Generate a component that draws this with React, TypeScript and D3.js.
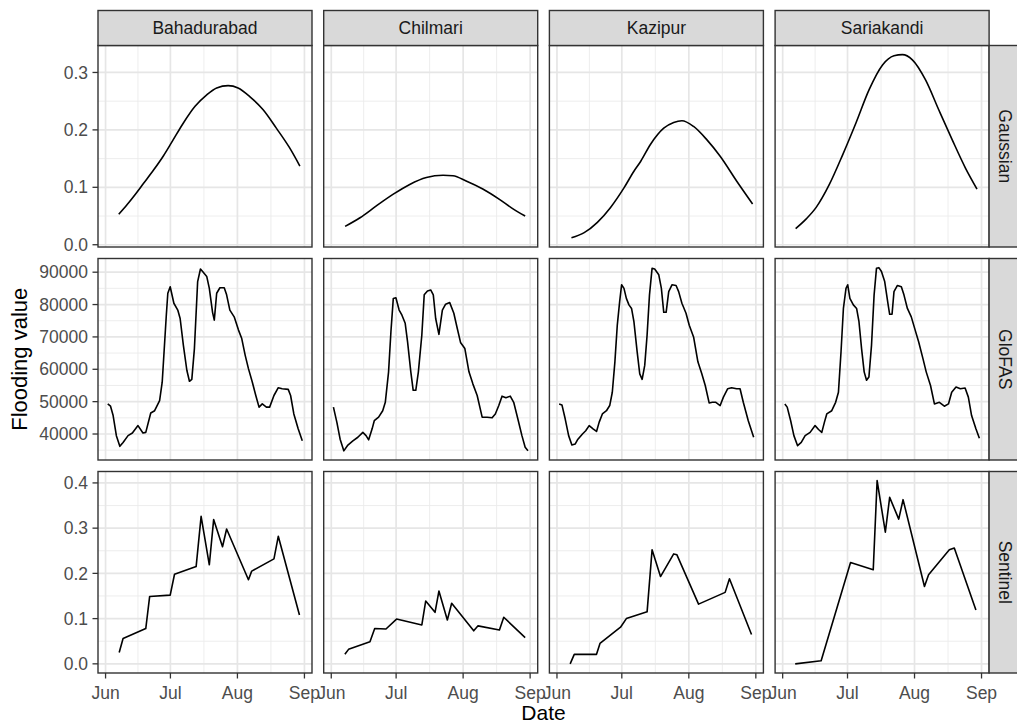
import React, { useRef, useEffect } from 'react'
import * as d3 from 'd3'

const stations = ['Bahadurabad', 'Chilmari', 'Kazipur', 'Sariakandi']

// each point: [days after 1 June, value]
const gaussianBahadurabad = [
    [6.1, 0.053], [10, 0.07], [13.8, 0.088], [17.6, 0.107], [22.2, 0.13], [26.8, 0.155],
    [30.7, 0.179], [36, 0.212], [41.4, 0.241], [46.8, 0.261], [51.4, 0.273], [56.7, 0.277],
    [61.3, 0.273], [66.7, 0.258], [72.9, 0.235], [79, 0.203], [85.1, 0.169], [89.9, 0.137],
]
const gaussianChilmari = [
    [6.4, 0.032], [13.3, 0.047], [21, 0.068], [28.7, 0.088], [36.3, 0.105], [44, 0.117],
    [51.7, 0.121], [56.3, 0.12], [62.4, 0.111], [70.1, 0.097], [77.8, 0.079], [83.9, 0.063],
    [89.7, 0.05],
]
const gaussianKazipur = [
    [6.7, 0.012], [12.6, 0.021], [18.7, 0.039], [24.8, 0.065], [31, 0.099], [35.6, 0.128],
    [38.7, 0.145], [43.3, 0.175], [49.4, 0.203], [54, 0.213], [57.8, 0.216], [63.2, 0.206],
    [69.3, 0.183], [75.5, 0.154], [83.1, 0.111], [90.5, 0.071],
]
const gaussianSariakandi = [
    [6, 0.028], [10.9, 0.045], [15.5, 0.065], [21.6, 0.105], [27.8, 0.157], [33.9, 0.212],
    [40, 0.27], [46.2, 0.313], [51.5, 0.329], [55.4, 0.331], [60, 0.322], [66.1, 0.287],
    [72.2, 0.235], [78.4, 0.183], [84.5, 0.134], [89.9, 0.097],
]

const glofasBahadurabad = [
    [1, 49300], [2.3, 48600], [3.5, 45700], [5, 39500], [6.6, 36200], [8.1, 37400],
    [10.4, 39500], [12.4, 40300], [15, 42600], [17.3, 40300], [18.6, 40500], [20.9, 46500],
    [22.7, 47200], [25, 50300], [26.2, 56000], [28.1, 76700], [28.8, 83500], [29.9, 85500],
    [31.6, 80400], [33.4, 78300], [34.5, 75700], [36, 67400], [37.6, 59700], [38.8, 56300],
    [39.9, 56900], [41.1, 66400], [42.6, 87100], [43.9, 91000], [44.9, 90200], [46.8, 88700],
    [48, 85000], [49.5, 77600], [50.3, 75200], [51.4, 83500], [52.9, 85200], [54.9, 85200],
    [56, 83000], [57.5, 78300], [59.5, 76200], [61.5, 72100], [63, 69500], [64.6, 64300],
    [66.1, 60200], [67.9, 56000], [69.5, 51900], [71, 48300], [72.5, 49300], [74.4, 48300],
    [75.9, 48300], [77.9, 51900], [79.9, 54300], [81.7, 54000], [84.5, 53800], [85.6, 51900],
    [87.1, 46200], [89.1, 41600], [91, 37900],
]
const glofasChilmari = [
    [1, 48300], [2.6, 43600], [4.1, 38400], [5.8, 34800], [7.7, 36600], [10, 37900],
    [12.3, 39000], [14.6, 40500], [16.1, 39500], [17.3, 38200], [18.9, 41600], [19.9, 44100],
    [21.9, 45200], [23.8, 47200], [25, 49800], [26.5, 59100], [27.6, 71600], [28.7, 81900],
    [29.9, 82100], [31.4, 78300], [32.7, 76700], [34.2, 74200], [35.3, 68500], [36.8, 59200],
    [37.9, 53500], [39.1, 53500], [40.3, 59200], [41.9, 70600], [43, 83000], [44.5, 84200],
    [46, 84500], [47.2, 83000], [48.3, 75700], [49.8, 70800], [51.4, 78300], [52.9, 80100],
    [54.8, 80600], [56.7, 77300], [58.3, 72600], [59.8, 68300], [61.8, 66400], [63.7, 59200],
    [65.5, 55500], [67.5, 51900], [69.8, 45200], [72.1, 45200], [74.4, 45000], [75.9, 46200],
    [77.5, 48800], [79, 51700], [80.8, 51200], [82.8, 51700], [84.4, 49800], [86.3, 44700],
    [88.2, 39500], [89.7, 35900], [91, 34800],
]
const glofasKazipur = [
    [1, 49300], [2.3, 49000], [3.8, 44700], [5.4, 39500], [6.9, 36600], [8.4, 36900],
    [9.5, 38200], [11.8, 40000], [13.3, 41000], [14.9, 42600], [16.7, 41600], [18.3, 40800],
    [19.5, 43600], [21, 46200], [22.9, 47200], [24.4, 48800], [25.6, 52900], [26.8, 62300],
    [27.9, 73600], [29, 80900], [29.9, 86100], [31, 85000], [32.1, 81900], [33.3, 79900],
    [34.5, 78800], [35.6, 74700], [37.1, 65400], [38.3, 58600], [39.4, 56900], [40.6, 61200],
    [41.7, 70600], [42.8, 83000], [44, 91200], [45.2, 91000], [47.1, 89200], [48.3, 85000],
    [49.4, 77600], [50.5, 77600], [51.7, 84000], [53.2, 86100], [55.1, 85900], [56.3, 84000],
    [57.8, 80400], [59.7, 77300], [61.2, 73600], [63.2, 70000], [65.2, 62300], [67, 58600],
    [68.6, 55000], [70.4, 49600], [71.9, 49800], [73.5, 49800], [75.5, 48800], [77, 51400],
    [79, 54000], [80.8, 54300], [83.1, 54000], [84.7, 54000], [86.2, 49800], [88.5, 44100],
    [91, 39000],
]
const glofasSariakandi = [
    [1, 49300], [2.1, 48300], [3.7, 44100], [5.2, 39500], [6.9, 36400], [8.6, 37400],
    [10.4, 39500], [12.7, 40500], [15, 42600], [16.6, 41400], [18.1, 40500], [19.3, 43600],
    [20.4, 46200], [22.7, 47200], [24.5, 49800], [25.8, 52900], [27, 65400], [28.1, 78800],
    [29.3, 85000], [30.1, 86100], [31.1, 81900], [32.7, 79900], [34.2, 78800], [35.3, 74700],
    [36.5, 66400], [37.7, 59200], [38.8, 56600], [39.9, 57600], [41.1, 67400], [42.3, 83000],
    [43.4, 91200], [44.5, 91400], [45.7, 90200], [47.2, 87100], [48.8, 79900], [49.5, 77000],
    [50.6, 77000], [51.5, 84000], [53.1, 85900], [54.9, 85500], [56.1, 83000], [57.7, 78800],
    [59.5, 76200], [61.3, 72100], [62.9, 68500], [64.9, 63300], [66.4, 59200], [68.4, 55000],
    [70.2, 49300], [72.5, 49800], [74.8, 48600], [76.7, 49300], [78.2, 52900], [80.2, 54500],
    [82.2, 54000], [84.4, 54200], [85.9, 51400], [87.4, 45700], [89.4, 41600], [91, 38700],
]

const sentinelBahadurabad = [
    [6.3, 0.025], [8.1, 0.056], [18.6, 0.078], [20.4, 0.149], [29.9, 0.152], [31.9, 0.198],
    [41.9, 0.215], [44.2, 0.326], [48, 0.219], [50, 0.319], [54.1, 0.259], [56, 0.298],
    [66.1, 0.186], [67.6, 0.205], [77.9, 0.232], [79.9, 0.282], [89.7, 0.108],
]
const sentinelChilmari = [
    [6.3, 0.021], [8, 0.032], [17.9, 0.049], [20.1, 0.078], [25.3, 0.077], [30.2, 0.099],
    [41.9, 0.086], [43.7, 0.139], [48, 0.114], [49.8, 0.161], [53.7, 0.097], [55.7, 0.134],
    [65.9, 0.073], [67.9, 0.084], [77.8, 0.075], [79.8, 0.103], [89.7, 0.058],
]
const sentinelKazipur = [
    [6.1, 0.0], [8, 0.021], [18.3, 0.021], [19.9, 0.045], [29.4, 0.081], [32.1, 0.1],
    [41.7, 0.115], [44, 0.252], [47.9, 0.193], [54, 0.243], [55.5, 0.241], [65.5, 0.132],
    [77.8, 0.158], [79.8, 0.188], [90, 0.065],
]
const sentinelSariakandi = [
    [5.8, 0.0], [17.8, 0.007], [31.4, 0.224], [41.9, 0.208], [43.7, 0.405], [47.5, 0.291],
    [49.5, 0.368], [53.7, 0.32], [55.7, 0.363], [65.6, 0.171], [67.5, 0.197], [77.1, 0.252],
    [79.4, 0.256], [89.4, 0.119],
]

const gaussianTicks = [0, 0.1, 0.2, 0.3]
const glofasTicks = [40000, 50000, 60000, 70000, 80000, 90000]
const sentinelTicks = [0, 0.1, 0.2, 0.3, 0.4]
const monthLabels = ['Jun', 'Jul', 'Aug', 'Sep']

const seasonStart = new Date(2019, 5, 1)
const toDate = (d) => new Date(seasonStart.getTime() + d * 864e5)

const rows = [
    { name: 'Gaussian', ticks: gaussianTicks, fmt: d3.format('.1f'),
      data: [gaussianBahadurabad, gaussianChilmari, gaussianKazipur, gaussianSariakandi] },
    { name: 'GloFAS', ticks: glofasTicks, fmt: d3.format('d'),
      data: [glofasBahadurabad, glofasChilmari, glofasKazipur, glofasSariakandi] },
    { name: 'Sentinel', ticks: sentinelTicks, fmt: d3.format('.1f'),
      data: [sentinelBahadurabad, sentinelChilmari, sentinelKazipur, sentinelSariakandi] },
]

const FONT = 'Liberation Sans, Arial, Helvetica, sans-serif'

function expand(ext) {
    const pad = (ext[1] - ext[0]) * 0.05
    return [ext[0] - pad, ext[1] + pad]
}

export default function App() {
    const ref = useRef(null)

    useEffect(() => {
        const svg = d3.select(ref.current)
        svg.selectAll('*').remove()

        const panelLeft = 98
        const panelW = 214
        const gapX = 11.7
        const stripTop = 10.5
        const stripH = 35
        const panelTop = stripTop + stripH
        const panelH = 201.5
        const gapY = 11.5
        const colX = (c) => panelLeft + c * (panelW + gapX)
        const rowY = (r) => panelTop + r * (panelH + gapY)
        const rightX = colX(4) - gapX

        const allDays = rows.flatMap((r) => r.data.flat().map((p) => p[0]))
        const x = d3.scaleTime()
            .domain(expand(d3.extent(allDays)).map(toDate))
            .range([0, panelW])
        const majorX = d3.timeMonth.range(new Date(2019, 5, 1), new Date(2019, 8, 2))
        const minorX = d3.pairs(majorX).map(([a, b]) => new Date((a.getTime() + b.getTime()) / 2))

        rows.forEach((row, r) => {
            const vals = row.data.flat().map((p) => p[1])
            const y = d3.scaleLinear().domain(expand(d3.extent(vals))).range([panelH, 0])
            const step = row.ticks[1] - row.ticks[0]
            const minorY = d3.range(row.ticks[0] - step / 2, y.domain()[1], step)
                .filter((v) => v > y.domain()[0] && v < y.domain()[1])

            row.data.forEach((series, c) => {
                const g = svg.append('g').attr('transform', `translate(${colX(c)},${rowY(r)})`)
                g.append('rect').attr('width', panelW).attr('height', panelH).attr('fill', '#fff')

                // minor grid
                g.selectAll('.mny').data(minorY).join('line')
                    .attr('x1', 0).attr('x2', panelW)
                    .attr('y1', (d) => y(d)).attr('y2', (d) => y(d))
                    .attr('stroke', '#EBEBEB').attr('stroke-width', 0.9)
                g.selectAll('.mnx').data(minorX).join('line')
                    .attr('y1', 0).attr('y2', panelH)
                    .attr('x1', (d) => x(d)).attr('x2', (d) => x(d))
                    .attr('stroke', '#EBEBEB').attr('stroke-width', 0.9)
                // major grid
                g.selectAll('.mjy').data(row.ticks).join('line')
                    .attr('x1', 0).attr('x2', panelW)
                    .attr('y1', (d) => y(d)).attr('y2', (d) => y(d))
                    .attr('stroke', '#E6E6E6').attr('stroke-width', 1.7)
                g.selectAll('.mjx').data(majorX).join('line')
                    .attr('y1', 0).attr('y2', panelH)
                    .attr('x1', (d) => x(d)).attr('x2', (d) => x(d))
                    .attr('stroke', '#E6E6E6').attr('stroke-width', 1.7)

                const line = d3.line()
                    .x((d) => x(toDate(d[0])))
                    .y((d) => y(d[1]))
                    .curve(r === 0 ? d3.curveMonotoneX : d3.curveLinear)
                g.append('path').datum(series).attr('d', line)
                    .attr('fill', 'none').attr('stroke', '#000').attr('stroke-width', 1.6)
                    .attr('stroke-linejoin', 'round')

                g.append('rect').attr('width', panelW).attr('height', panelH)
                    .attr('fill', 'none').attr('stroke', '#333333').attr('stroke-width', 1.4)

                // y axis on first column
                if (c === 0) {
                    g.selectAll('.ytick').data(row.ticks).join('line')
                        .attr('x1', -5.5).attr('x2', 0)
                        .attr('y1', (d) => y(d)).attr('y2', (d) => y(d))
                        .attr('stroke', '#333333').attr('stroke-width', 1.3)
                    g.selectAll('.ylab').data(row.ticks).join('text')
                        .attr('x', -10).attr('y', (d) => y(d)).attr('dy', '0.35em')
                        .attr('text-anchor', 'end')
                        .attr('font-family', FONT).attr('font-size', 17.5).attr('fill', '#4D4D4D')
                        .text((d) => row.fmt(d))
                }
                // x axis on bottom row
                if (r === rows.length - 1) {
                    g.selectAll('.xtick').data(majorX).join('line')
                        .attr('y1', panelH).attr('y2', panelH + 5.5)
                        .attr('x1', (d) => x(d)).attr('x2', (d) => x(d))
                        .attr('stroke', '#333333').attr('stroke-width', 1.3)
                    g.selectAll('.xlab').data(majorX).join('text')
                        .attr('x', (d) => x(d)).attr('y', panelH + 25.5)
                        .attr('text-anchor', 'middle')
                        .attr('font-family', FONT).attr('font-size', 17.5).attr('fill', '#4D4D4D')
                        .text((d, i) => monthLabels[i])
                }
            })

            // right strip
            const sg = svg.append('g').attr('transform', `translate(${rightX},${rowY(r)})`)
            sg.append('rect').attr('width', stripH).attr('height', panelH)
                .attr('fill', '#D9D9D9').attr('stroke', '#333333').attr('stroke-width', 1.4)
            sg.append('text')
                .attr('transform', `translate(${stripH / 2 - 1},${panelH / 2}) rotate(90)`)
                .attr('text-anchor', 'middle').attr('dy', '0.35em')
                .attr('font-family', FONT).attr('font-size', 17.5).attr('fill', '#1A1A1A')
                .text(row.name)
        })

        // top strips
        stations.forEach((s, c) => {
            const sg = svg.append('g').attr('transform', `translate(${colX(c)},${stripTop})`)
            sg.append('rect').attr('width', panelW).attr('height', stripH)
                .attr('fill', '#D9D9D9').attr('stroke', '#333333').attr('stroke-width', 1.4)
            sg.append('text')
                .attr('x', panelW / 2).attr('y', stripH / 2).attr('dy', '0.35em')
                .attr('text-anchor', 'middle')
                .attr('font-family', FONT).attr('font-size', 17.5).attr('fill', '#1A1A1A')
                .text(s)
        })

        // axis titles
        const midX = (colX(0) + rightX) / 2
        svg.append('text')
            .attr('x', midX).attr('y', 720)
            .attr('text-anchor', 'middle')
            .attr('font-family', FONT).attr('font-size', 21).attr('fill', '#000')
            .text('Date')
        const midY = (panelTop + rowY(2) + panelH) / 2
        svg.append('text')
            .attr('transform', `translate(27,${midY}) rotate(-90)`)
            .attr('text-anchor', 'middle')
            .attr('font-family', FONT).attr('font-size', 22).attr('fill', '#000')
            .text('Flooding value')
    }, [])

    return (
        <svg
            ref={ref}
            width={1017}
            height={726}
            style={{ position: 'absolute', left: 0, top: 0, background: '#fff' }}
        ></svg>
    )
}
